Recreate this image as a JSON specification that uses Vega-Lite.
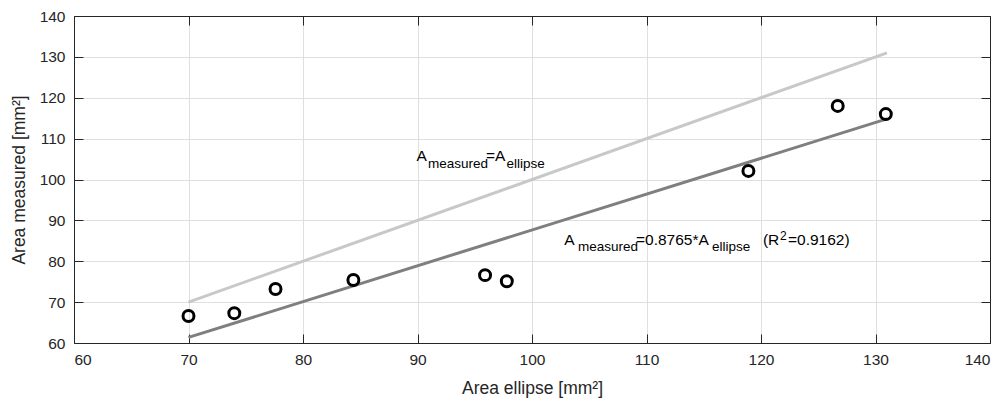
{
  "$schema": "https://vega.github.io/schema/vega-lite/v6.json",
  "width": 916,
  "height": 327,
  "autosize": "none",
  "padding": {"left": 74, "top": 16, "right": 15, "bottom": 62},
  "background": "white",
  "config": {
    "view": {"stroke": null},
    "font": "Liberation Sans",
    "axis": {
      "domainColor": "#262626",
      "domainWidth": 1,
      "tickColor": "#262626",
      "tickSize": -9,
      "tickWidth": 1,
      "labelColor": "#262626",
      "labelFont": "Liberation Sans",
      "labelFontSize": 15.5,
      "labelPadding": 18,
      "titleColor": "#262626",
      "titleFont": "Liberation Sans",
      "titleFontSize": 17.5,
      "titleFontWeight": "normal",
      "gridColor": "#dfdfdf",
      "gridWidth": 1
    }
  },
  "layer": [
    {
      "data": {"values": [
        {"series": "identity", "x": 70, "y": 70},
        {"series": "identity", "x": 131, "y": 131},
        {"series": "fit", "x": 70, "y": 61.36},
        {"series": "fit", "x": 131, "y": 114.82}
      ]},
      "mark": {"type": "line", "strokeWidth": 3},
      "encoding": {
        "x": {"field": "x", "type": "quantitative",
              "scale": {"domain": [60, 140], "nice": false, "zero": false},
              "axis": {"orient": "bottom", "values": [60,70,80,90,100,110,120,130,140], "grid": true, "title": "Area ellipse [mm²]", "titlePadding": 12}},
        "y": {"field": "y", "type": "quantitative",
              "scale": {"domain": [60, 140], "nice": false, "zero": false},
              "axis": {"orient": "left", "values": [60,70,80,90,100,110,120,130,140], "grid": true, "title": "Area measured [mm²]", "titlePadding": 11}},
        "color": {"field": "series", "type": "nominal",
                  "scale": {"domain": ["identity", "fit"], "range": ["#c8c8c8", "#7f7f7f"]},
                  "legend": null}
      }
    },
    {
      "data": {"values": [
        {"x": 70.0, "y": 66.6},
        {"x": 74.0, "y": 67.3},
        {"x": 77.6, "y": 73.2},
        {"x": 84.4, "y": 75.4},
        {"x": 95.9, "y": 76.6},
        {"x": 97.8, "y": 75.1},
        {"x": 118.9, "y": 102.1},
        {"x": 126.7, "y": 118.0},
        {"x": 130.9, "y": 116.0}
      ]},
      "mark": {"type": "point", "shape": "circle", "filled": false, "size": 120, "strokeWidth": 3, "color": "#000000", "opacity": 1},
      "encoding": {
        "x": {"field": "x", "type": "quantitative",
              "axis": {"orient": "top", "values": [60,70,80,90,100,110,120,130,140], "labels": false, "grid": false, "title": null}},
        "y": {"field": "y", "type": "quantitative",
              "axis": {"orient": "right", "values": [60,70,80,90,100,110,120,130,140], "labels": false, "grid": false, "title": null}}
      }
    },
    {
      "data": {"name": "ann", "values": [
        {"x": 89.91, "y": 104.53, "text": "A", "kind": "main"},
        {"x": 90.92, "y": 102.81, "text": "measured", "kind": "sub"},
        {"x": 95.98, "y": 104.53, "text": "=A", "kind": "main"},
        {"x": 97.77, "y": 102.81, "text": "ellipse", "kind": "sub"},
        {"x": 102.81, "y": 83.98, "text": "A", "kind": "main"},
        {"x": 104.02, "y": 82.58, "text": "measured", "kind": "sub"},
        {"x": 109.08, "y": 83.98, "text": "=0.8765*A", "kind": "main"},
        {"x": 115.72, "y": 82.58, "text": "ellipse", "kind": "sub"},
        {"x": 120.17, "y": 83.98, "text": "(R", "kind": "main"},
        {"x": 121.66, "y": 85.2, "text": "2", "kind": "sup"},
        {"x": 122.36, "y": 83.98, "text": "=0.9162)", "kind": "main"}
      ]},
      "transform": [{"filter": "datum.kind === 'main'"}],
      "mark": {"type": "text", "align": "left", "baseline": "alphabetic", "fontSize": 15.5, "color": "#000000", "font": "Liberation Sans"},
      "encoding": {
        "x": {"field": "x", "type": "quantitative", "axis": null},
        "y": {"field": "y", "type": "quantitative", "axis": null},
        "text": {"field": "text"}
      }
    },
    {
      "data": {"name": "ann"},
      "transform": [{"filter": "datum.kind === 'sub'"}],
      "mark": {"type": "text", "align": "left", "baseline": "alphabetic", "fontSize": 13.5, "color": "#000000", "font": "Liberation Sans"},
      "encoding": {
        "x": {"field": "x", "type": "quantitative", "axis": null},
        "y": {"field": "y", "type": "quantitative", "axis": null},
        "text": {"field": "text"}
      }
    },
    {
      "data": {"name": "ann"},
      "transform": [{"filter": "datum.kind === 'sup'"}],
      "mark": {"type": "text", "align": "left", "baseline": "alphabetic", "fontSize": 12, "color": "#000000", "font": "Liberation Sans"},
      "encoding": {
        "x": {"field": "x", "type": "quantitative", "axis": null},
        "y": {"field": "y", "type": "quantitative", "axis": null},
        "text": {"field": "text"}
      }
    }
  ]
}
